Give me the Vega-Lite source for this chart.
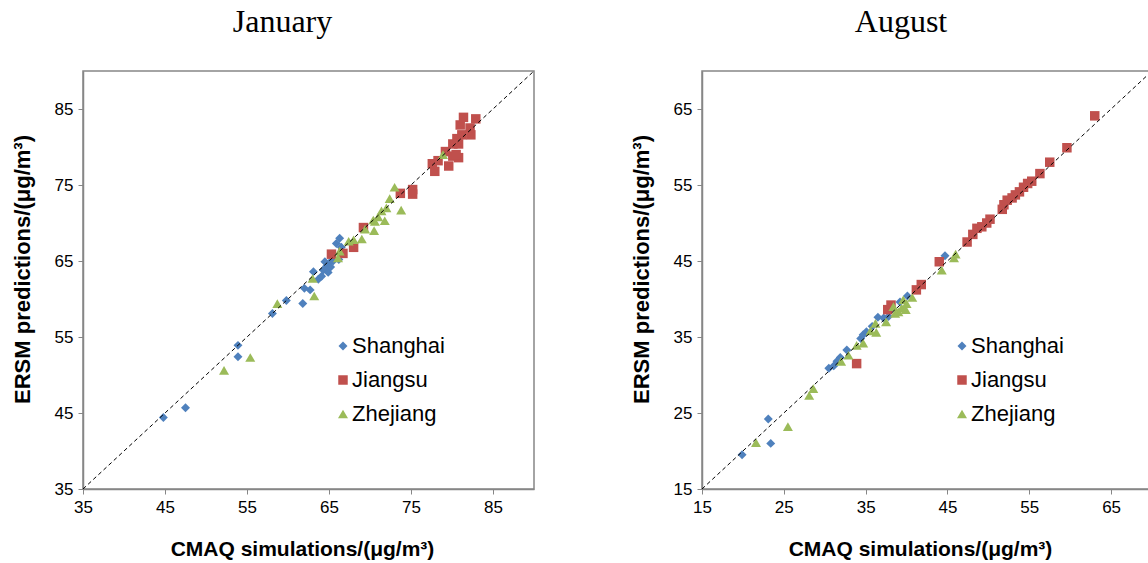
{
  "$schema": "https://vega.github.io/schema/vega-lite/v6.json",
  "background": "white",
  "padding": {"left": 10, "top": 5, "right": 0, "bottom": 0},
  "spacing": 168,
  "bounds": "flush",
  "config": {
    "view": {"stroke": "#868686", "strokeWidth": 1.5},
    "axis": {
      "grid": false,
      "labelFont": "Liberation Sans",
      "labelFontSize": 17,
      "labelColor": "#000000",
      "labelFlush": false,
      "titleFont": "Liberation Sans",
      "titleFontSize": 21,
      "titleFontWeight": "bold",
      "titleColor": "#000000",
      "domainColor": "#868686",
      "domainWidth": 1.5,
      "tickColor": "#868686",
      "tickSize": 5,
      "labelPadding": 5
    },
    "title": {"font": "Liberation Serif", "fontSize": 32, "fontWeight": "normal", "color": "#000000", "offset": 30, "dx": -26},
    "legend": {"labelFont": "Liberation Sans", "labelFontSize": 22, "labelColor": "#000000", "padding": 0, "rowPadding": 12, "symbolSize": 50, "labelOffset": -2, "symbolStrokeWidth": 0}
  },
  "datasets": {
    "jan": [
      {"region": "Shanghai", "cmaq": 44.8, "ersm": 44.4},
      {"region": "Shanghai", "cmaq": 47.5, "ersm": 45.7},
      {"region": "Shanghai", "cmaq": 53.9, "ersm": 53.9},
      {"region": "Shanghai", "cmaq": 53.9, "ersm": 52.4},
      {"region": "Shanghai", "cmaq": 58.1, "ersm": 58.1},
      {"region": "Shanghai", "cmaq": 59.8, "ersm": 59.8},
      {"region": "Shanghai", "cmaq": 61.8, "ersm": 59.4},
      {"region": "Shanghai", "cmaq": 62.0, "ersm": 61.4},
      {"region": "Shanghai", "cmaq": 62.7, "ersm": 61.2},
      {"region": "Shanghai", "cmaq": 63.1, "ersm": 63.6},
      {"region": "Shanghai", "cmaq": 63.7, "ersm": 62.6},
      {"region": "Shanghai", "cmaq": 64.1, "ersm": 63.0},
      {"region": "Shanghai", "cmaq": 64.3, "ersm": 63.8},
      {"region": "Shanghai", "cmaq": 64.7, "ersm": 64.3},
      {"region": "Shanghai", "cmaq": 64.9, "ersm": 63.5},
      {"region": "Shanghai", "cmaq": 65.1, "ersm": 64.8},
      {"region": "Shanghai", "cmaq": 65.5, "ersm": 65.0},
      {"region": "Shanghai", "cmaq": 65.2, "ersm": 64.2},
      {"region": "Shanghai", "cmaq": 64.5, "ersm": 64.9},
      {"region": "Shanghai", "cmaq": 65.9, "ersm": 67.3},
      {"region": "Shanghai", "cmaq": 66.3, "ersm": 68.0},
      {"region": "Shanghai", "cmaq": 66.5, "ersm": 66.8},
      {"region": "Shanghai", "cmaq": 66.2, "ersm": 65.2},
      {"region": "Jiangsu", "cmaq": 65.3, "ersm": 65.9},
      {"region": "Jiangsu", "cmaq": 66.7, "ersm": 66.0},
      {"region": "Jiangsu", "cmaq": 68.0, "ersm": 66.8},
      {"region": "Jiangsu", "cmaq": 69.2, "ersm": 69.4},
      {"region": "Jiangsu", "cmaq": 73.7, "ersm": 73.9},
      {"region": "Jiangsu", "cmaq": 75.2, "ersm": 74.4},
      {"region": "Jiangsu", "cmaq": 75.2, "ersm": 73.8},
      {"region": "Jiangsu", "cmaq": 77.6, "ersm": 77.8},
      {"region": "Jiangsu", "cmaq": 77.9, "ersm": 76.8},
      {"region": "Jiangsu", "cmaq": 78.3, "ersm": 78.2},
      {"region": "Jiangsu", "cmaq": 79.2, "ersm": 79.4},
      {"region": "Jiangsu", "cmaq": 79.6, "ersm": 77.5},
      {"region": "Jiangsu", "cmaq": 80.1, "ersm": 78.8},
      {"region": "Jiangsu", "cmaq": 80.8, "ersm": 78.6},
      {"region": "Jiangsu", "cmaq": 80.5, "ersm": 79.0},
      {"region": "Jiangsu", "cmaq": 80.1, "ersm": 80.4},
      {"region": "Jiangsu", "cmaq": 80.8, "ersm": 80.4},
      {"region": "Jiangsu", "cmaq": 80.6, "ersm": 81.1},
      {"region": "Jiangsu", "cmaq": 81.2, "ersm": 81.6},
      {"region": "Jiangsu", "cmaq": 82.3, "ersm": 81.6},
      {"region": "Jiangsu", "cmaq": 82.2, "ersm": 82.5},
      {"region": "Jiangsu", "cmaq": 81.0, "ersm": 82.9},
      {"region": "Jiangsu", "cmaq": 81.4, "ersm": 83.9},
      {"region": "Jiangsu", "cmaq": 82.9, "ersm": 83.7},
      {"region": "Zhejiang", "cmaq": 52.2, "ersm": 50.6},
      {"region": "Zhejiang", "cmaq": 55.4, "ersm": 52.3},
      {"region": "Zhejiang", "cmaq": 58.7, "ersm": 59.4},
      {"region": "Zhejiang", "cmaq": 63.2, "ersm": 60.4},
      {"region": "Zhejiang", "cmaq": 63.0, "ersm": 62.7},
      {"region": "Zhejiang", "cmaq": 66.1, "ersm": 65.4},
      {"region": "Zhejiang", "cmaq": 66.3, "ersm": 66.3},
      {"region": "Zhejiang", "cmaq": 67.4, "ersm": 67.6},
      {"region": "Zhejiang", "cmaq": 68.0, "ersm": 67.8},
      {"region": "Zhejiang", "cmaq": 69.0, "ersm": 67.9},
      {"region": "Zhejiang", "cmaq": 69.4, "ersm": 69.2},
      {"region": "Zhejiang", "cmaq": 70.5, "ersm": 69.0},
      {"region": "Zhejiang", "cmaq": 70.6, "ersm": 70.2},
      {"region": "Zhejiang", "cmaq": 70.4, "ersm": 70.4},
      {"region": "Zhejiang", "cmaq": 71.0, "ersm": 70.8},
      {"region": "Zhejiang", "cmaq": 71.8, "ersm": 70.3},
      {"region": "Zhejiang", "cmaq": 71.4, "ersm": 71.6},
      {"region": "Zhejiang", "cmaq": 72.0, "ersm": 72.0},
      {"region": "Zhejiang", "cmaq": 72.4, "ersm": 73.2},
      {"region": "Zhejiang", "cmaq": 73.0, "ersm": 74.7},
      {"region": "Zhejiang", "cmaq": 73.8, "ersm": 71.7},
      {"region": "Zhejiang", "cmaq": 78.9, "ersm": 79.0}
    ],
    "aug": [
      {"region": "Shanghai", "cmaq": 19.9, "ersm": 19.5},
      {"region": "Shanghai", "cmaq": 23.4, "ersm": 21.0},
      {"region": "Shanghai", "cmaq": 23.1, "ersm": 24.2},
      {"region": "Shanghai", "cmaq": 30.5, "ersm": 30.9},
      {"region": "Shanghai", "cmaq": 31.1, "ersm": 31.2},
      {"region": "Shanghai", "cmaq": 31.5, "ersm": 31.8},
      {"region": "Shanghai", "cmaq": 31.9, "ersm": 32.3},
      {"region": "Shanghai", "cmaq": 32.7, "ersm": 33.3},
      {"region": "Shanghai", "cmaq": 34.4, "ersm": 34.8},
      {"region": "Shanghai", "cmaq": 34.7, "ersm": 35.3},
      {"region": "Shanghai", "cmaq": 35.1, "ersm": 35.7},
      {"region": "Shanghai", "cmaq": 35.8, "ersm": 36.4},
      {"region": "Shanghai", "cmaq": 36.5, "ersm": 37.6},
      {"region": "Shanghai", "cmaq": 37.2, "ersm": 37.5},
      {"region": "Shanghai", "cmaq": 37.8, "ersm": 37.7},
      {"region": "Shanghai", "cmaq": 39.2, "ersm": 39.6},
      {"region": "Shanghai", "cmaq": 40.1, "ersm": 40.4},
      {"region": "Shanghai", "cmaq": 44.7, "ersm": 45.7},
      {"region": "Jiangsu", "cmaq": 33.9, "ersm": 31.5},
      {"region": "Jiangsu", "cmaq": 37.7, "ersm": 38.6},
      {"region": "Jiangsu", "cmaq": 38.1, "ersm": 39.2},
      {"region": "Jiangsu", "cmaq": 41.2, "ersm": 41.2},
      {"region": "Jiangsu", "cmaq": 41.8, "ersm": 41.9},
      {"region": "Jiangsu", "cmaq": 44.0, "ersm": 44.9},
      {"region": "Jiangsu", "cmaq": 47.4, "ersm": 47.5},
      {"region": "Jiangsu", "cmaq": 48.1, "ersm": 48.5},
      {"region": "Jiangsu", "cmaq": 48.6, "ersm": 49.3},
      {"region": "Jiangsu", "cmaq": 49.2, "ersm": 49.5},
      {"region": "Jiangsu", "cmaq": 49.8, "ersm": 50.0},
      {"region": "Jiangsu", "cmaq": 50.2, "ersm": 50.5},
      {"region": "Jiangsu", "cmaq": 51.7, "ersm": 51.8},
      {"region": "Jiangsu", "cmaq": 51.9, "ersm": 52.4},
      {"region": "Jiangsu", "cmaq": 52.3, "ersm": 53.0},
      {"region": "Jiangsu", "cmaq": 52.9, "ersm": 53.3},
      {"region": "Jiangsu", "cmaq": 53.3, "ersm": 53.7},
      {"region": "Jiangsu", "cmaq": 53.8, "ersm": 54.1},
      {"region": "Jiangsu", "cmaq": 54.3, "ersm": 54.7},
      {"region": "Jiangsu", "cmaq": 54.8, "ersm": 55.2},
      {"region": "Jiangsu", "cmaq": 55.3, "ersm": 55.5},
      {"region": "Jiangsu", "cmaq": 56.3, "ersm": 56.5},
      {"region": "Jiangsu", "cmaq": 57.5, "ersm": 58.0},
      {"region": "Jiangsu", "cmaq": 59.6, "ersm": 59.9},
      {"region": "Jiangsu", "cmaq": 63.0, "ersm": 64.1},
      {"region": "Zhejiang", "cmaq": 21.6, "ersm": 21.1},
      {"region": "Zhejiang", "cmaq": 25.5, "ersm": 23.2},
      {"region": "Zhejiang", "cmaq": 28.1, "ersm": 27.3},
      {"region": "Zhejiang", "cmaq": 28.6, "ersm": 28.2},
      {"region": "Zhejiang", "cmaq": 32.0, "ersm": 31.8},
      {"region": "Zhejiang", "cmaq": 32.9, "ersm": 32.6},
      {"region": "Zhejiang", "cmaq": 33.9, "ersm": 33.9},
      {"region": "Zhejiang", "cmaq": 34.7, "ersm": 34.2},
      {"region": "Zhejiang", "cmaq": 35.6, "ersm": 35.8},
      {"region": "Zhejiang", "cmaq": 36.3, "ersm": 35.6},
      {"region": "Zhejiang", "cmaq": 36.2, "ersm": 36.8},
      {"region": "Zhejiang", "cmaq": 37.5, "ersm": 37.0},
      {"region": "Zhejiang", "cmaq": 38.4, "ersm": 39.0},
      {"region": "Zhejiang", "cmaq": 38.6, "ersm": 38.1},
      {"region": "Zhejiang", "cmaq": 39.0, "ersm": 38.3},
      {"region": "Zhejiang", "cmaq": 39.4, "ersm": 38.8},
      {"region": "Zhejiang", "cmaq": 39.6, "ersm": 39.9},
      {"region": "Zhejiang", "cmaq": 39.9, "ersm": 38.6},
      {"region": "Zhejiang", "cmaq": 40.0, "ersm": 39.4},
      {"region": "Zhejiang", "cmaq": 40.7, "ersm": 40.2},
      {"region": "Zhejiang", "cmaq": 44.3, "ersm": 43.8},
      {"region": "Zhejiang", "cmaq": 45.8, "ersm": 45.4},
      {"region": "Zhejiang", "cmaq": 46.0, "ersm": 45.9}
    ],
    "diagJan": [{"v": 35}, {"v": 90}],
    "diagAug": [{"v": 15}, {"v": 70}]
  },
  "hconcat": [
    {
      "width": 451,
      "height": 418,
      "title": "January",
      "layer": [
        {
          "data": {"name": "jan"},
          "mark": {"type": "point", "filled": true, "opacity": 1},
          "encoding": {
            "x": {"field": "cmaq", "type": "quantitative", "scale": {"domain": [35, 90], "nice": false, "zero": false}, "axis": {"values": [35, 45, 55, 65, 75, 85], "title": "CMAQ simulations/(μg/m³)", "titlePadding": 23, "titleX": 219}},
            "y": {"field": "ersm", "type": "quantitative", "scale": {"domain": [35, 90], "nice": false, "zero": false}, "axis": {"values": [35, 45, 55, 65, 75, 85], "title": "ERSM predictions/(μg/m³)", "titlePadding": 20, "titleFontSize": 22, "titleY": 198}},
            "color": {"field": "region", "type": "nominal", "scale": {"domain": ["Shanghai", "Jiangsu", "Zhejiang"], "range": ["#4F81BD", "#C0504D", "#9BBB59"]}, "legend": {"title": null, "orient": "none", "legendX": 249, "legendY": 264}},
            "shape": {"field": "region", "type": "nominal", "scale": {"domain": ["Shanghai", "Jiangsu", "Zhejiang"], "range": ["diamond", "square", "triangle-up"]}, "legend": {"title": null, "orient": "none", "legendX": 249, "legendY": 264}},
            "size": {"field": "region", "type": "nominal", "scale": {"domain": ["Shanghai", "Jiangsu", "Zhejiang"], "range": [80, 100, 95]}, "legend": null}
          }
        },
        {
          "data": {"name": "diagJan"},
          "mark": {"type": "line", "color": "#000000", "strokeWidth": 1, "strokeDash": [4, 3]},
          "encoding": {
            "x": {"field": "v", "type": "quantitative"},
            "y": {"field": "v", "type": "quantitative"}
          }
        }
      ]
    },
    {
      "width": 450,
      "height": 418,
      "title": "August",
      "layer": [
        {
          "data": {"name": "aug"},
          "mark": {"type": "point", "filled": true, "opacity": 1},
          "encoding": {
            "x": {"field": "cmaq", "type": "quantitative", "scale": {"domain": [15, 70], "nice": false, "zero": false}, "axis": {"values": [15, 25, 35, 45, 55, 65], "title": "CMAQ simulations/(μg/m³)", "titlePadding": 23, "titleX": 218}},
            "y": {"field": "ersm", "type": "quantitative", "scale": {"domain": [15, 70], "nice": false, "zero": false}, "axis": {"values": [15, 25, 35, 45, 55, 65], "title": "ERSM predictions/(μg/m³)", "titlePadding": 20, "titleFontSize": 22, "titleY": 198}},
            "color": {"field": "region", "type": "nominal", "scale": {"domain": ["Shanghai", "Jiangsu", "Zhejiang"], "range": ["#4F81BD", "#C0504D", "#9BBB59"]}, "legend": {"title": null, "orient": "none", "legendX": 249, "legendY": 264}},
            "shape": {"field": "region", "type": "nominal", "scale": {"domain": ["Shanghai", "Jiangsu", "Zhejiang"], "range": ["diamond", "square", "triangle-up"]}, "legend": {"title": null, "orient": "none", "legendX": 249, "legendY": 264}},
            "size": {"field": "region", "type": "nominal", "scale": {"domain": ["Shanghai", "Jiangsu", "Zhejiang"], "range": [80, 100, 95]}, "legend": null}
          }
        },
        {
          "data": {"name": "diagAug"},
          "mark": {"type": "line", "color": "#000000", "strokeWidth": 1, "strokeDash": [4, 3]},
          "encoding": {
            "x": {"field": "v", "type": "quantitative"},
            "y": {"field": "v", "type": "quantitative"}
          }
        }
      ]
    }
  ],
  "resolve": {"scale": {"color": "independent", "shape": "independent", "size": "independent", "x": "independent", "y": "independent"}, "legend": {"color": "independent", "shape": "independent"}}
}
